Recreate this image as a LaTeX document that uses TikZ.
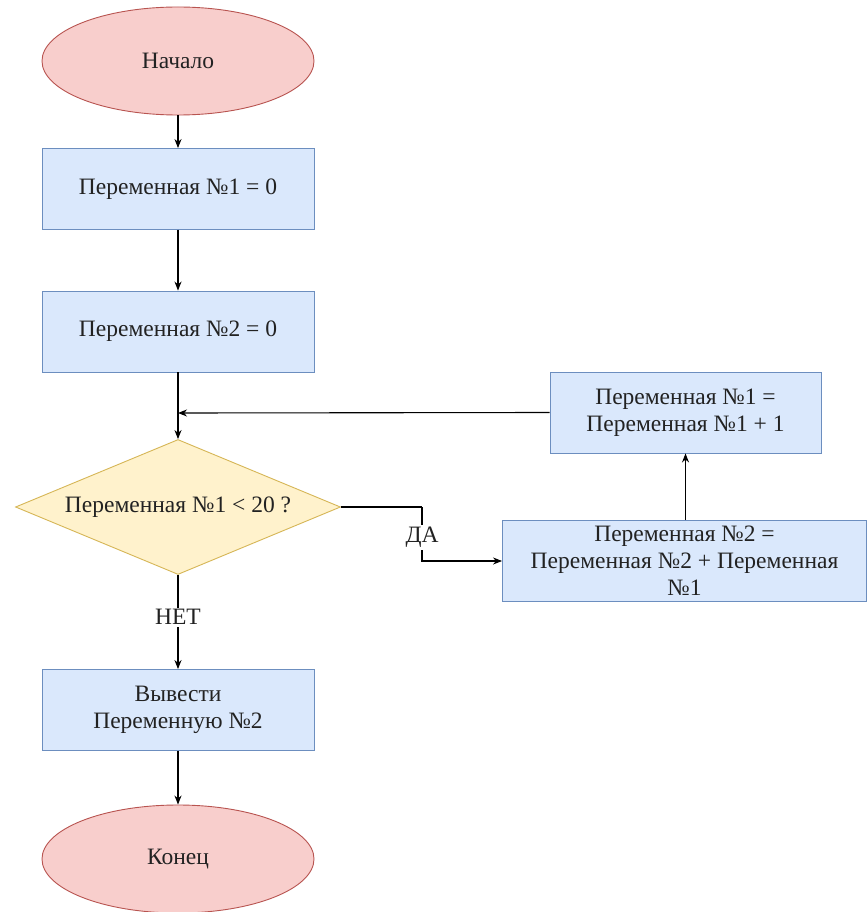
\documentclass[tikz,border=0pt]{standalone}
\usepackage{fontspec}
\setmainfont{Liberation Serif}
\usetikzlibrary{shapes.geometric,arrows.meta}
\definecolor{termfill}{HTML}{F8CECC}
\definecolor{termline}{HTML}{B85450}
\definecolor{boxfill}{HTML}{DAE8FC}
\definecolor{boxline}{HTML}{6C8EBF}
\definecolor{decfill}{HTML}{FFF2CC}
\definecolor{decline}{HTML}{D6B656}
\definecolor{txt}{HTML}{222222}
\tikzset{
  base/.style={font=\fontsize{23.5}{27}\selectfont, text=txt, align=center, inner sep=0pt, line width=0.9pt},
  term/.style={base, ellipse, fill=termfill, draw=termline, minimum width=272pt, minimum height=108pt},
  procbox/.style={base, rectangle, fill=boxfill, draw=boxline, minimum height=81pt},
  decision/.style={base, diamond, aspect=2.4074, fill=decfill, draw=decline, minimum width=325pt, minimum height=135pt},
  conn/.style={line width=1.1pt, -{Stealth[length=9pt,width=7pt]}},
  plain/.style={line width=1.1pt},
  lbl/.style={font=\fontsize{23.5}{27}\selectfont, text=txt, fill=white, inner sep=2pt}
}
\begin{document}
\begin{tikzpicture}[x=1pt,y=-1pt]
\useasboundingbox (0,0) rectangle (867,912);
\fill[white] (0,0) rectangle (867,912);
\node[term] (start) at (178,61) {Начало};
\node[procbox, minimum width=272pt] (b1) at (178,189) {Переменная №1 = 0};
\node[procbox, minimum width=272pt] (b2) at (178,331.5) {Переменная №2 = 0};
\node[decision] (dia) at (178,507) {Переменная №1 < 20 ?};
\node[procbox, minimum width=271pt] (b3) at (685.5,412.5) {Переменная №1 =\\Переменная №1 + 1};
\node[procbox, minimum width=364pt] (b4) at (684.5,561) {Переменная №2 =\\Переменная №2 + Переменная\\№1};
\node[procbox, minimum width=272pt] (b5) at (178,710) {Вывести\\Переменную №2};
\node[term] (end) at (178,859) {Конец};
\coordinate (merge) at (178,413);
\coordinate (da) at (422,507);

\draw[conn] (start) -- (b1);
\draw[conn] (b1) -- (b2);
\draw[conn] (b2.south) -- (dia.north);
\draw[conn] (b3.west) -- (merge);
\draw[plain] (dia.east) -- (da);
\draw[conn] (da) |- node[lbl, pos=0.28] {ДА} (b4.west);
\draw[conn] (b4.north -| b3.south) -- (b3.south);
\draw[conn] (dia.south) -- node[lbl, pos=0.45] {НЕТ} (b5.north);
\draw[conn] (b5) -- (end);
\end{tikzpicture}
\end{document}
